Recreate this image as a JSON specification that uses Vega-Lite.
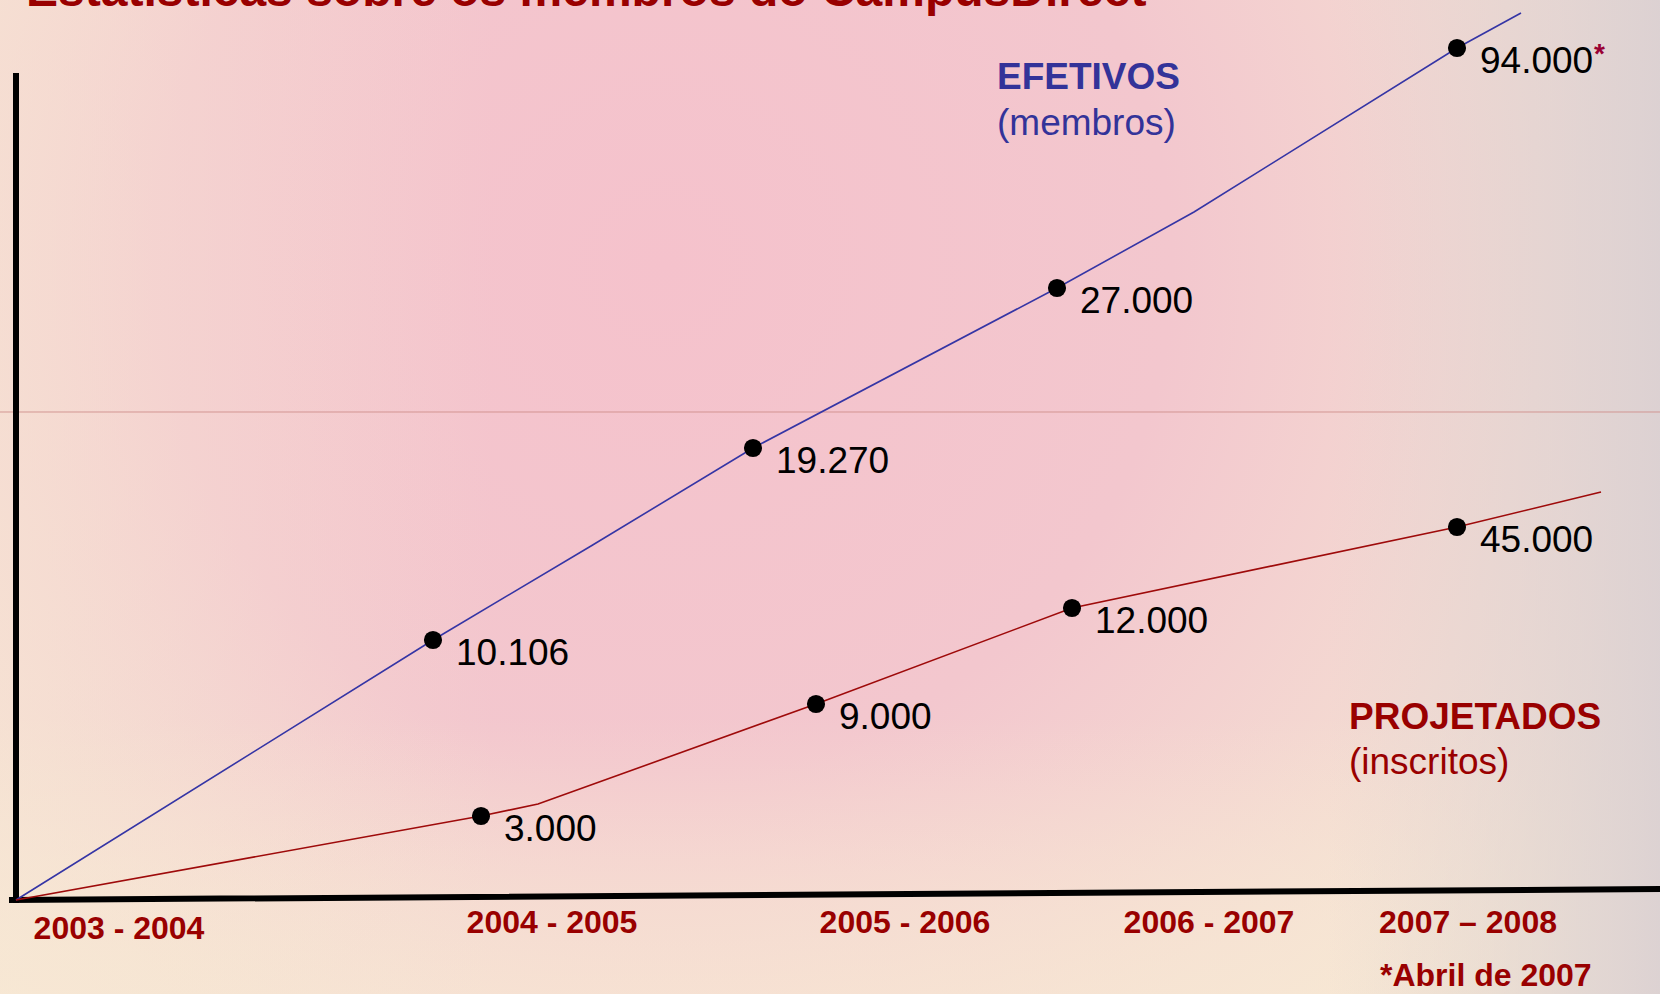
{
  "$schema": "https://vega.github.io/schema/vega-lite/v6.json",
  "width": 1660,
  "height": 994,
  "autosize": {"type": "none"},
  "padding": 0,
  "background": "#f4e2d3",
  "config": {
    "view": {
      "stroke": null,
      "fill": {
        "gradient": "radial",
        "x1": 0.4, "y1": 0.36, "r1": 0,
        "x2": 0.4, "y2": 0.36, "r2": 0.68,
        "stops": [
          {"offset": 0, "color": "#f5c2cc"},
          {"offset": 0.45, "color": "#f3c7ce"},
          {"offset": 0.78, "color": "#f4dcd2"},
          {"offset": 1, "color": "#f7e8d4"}
        ]
      }
    },
    "text": {"font": "Liberation Sans"}
  },
  "datasets": {
    "canvas": [{"x": 0, "x2": 1660, "y": 0, "y2": 994}],
    "guide": [{"x": 0, "y": 412, "i": 0}, {"x": 1660, "y": 412, "i": 1}],
    "axes": [
      {"seg": "vertical", "x": 16, "y": 76, "i": 0},
      {"seg": "vertical", "x": 16, "y": 900, "i": 1},
      {"seg": "horizontal", "x": 12, "y": 900, "i": 0},
      {"seg": "horizontal", "x": 1660, "y": 889, "i": 1}
    ],
    "efetivos_line": [
      {"x": 16, "y": 900, "i": 0},
      {"x": 433, "y": 640, "i": 1},
      {"x": 591, "y": 546, "i": 2},
      {"x": 753, "y": 448, "i": 3},
      {"x": 1057, "y": 288, "i": 4},
      {"x": 1194, "y": 212, "i": 5},
      {"x": 1457, "y": 48, "i": 6},
      {"x": 1521, "y": 13, "i": 7}
    ],
    "projetados_line": [
      {"x": 16, "y": 900, "i": 0},
      {"x": 481, "y": 816, "i": 1},
      {"x": 538, "y": 804, "i": 2},
      {"x": 816, "y": 704, "i": 3},
      {"x": 1072, "y": 608, "i": 4},
      {"x": 1457, "y": 527, "i": 5},
      {"x": 1601, "y": 492, "i": 6}
    ],
    "points": [
      {"series": "EFETIVOS", "x": 433, "y": 640, "label": "10.106"},
      {"series": "EFETIVOS", "x": 753, "y": 448, "label": "19.270"},
      {"series": "EFETIVOS", "x": 1057, "y": 288, "label": "27.000"},
      {"series": "EFETIVOS", "x": 1457, "y": 48, "label": "94.000"},
      {"series": "PROJETADOS", "x": 481, "y": 816, "label": "3.000"},
      {"series": "PROJETADOS", "x": 816, "y": 704, "label": "9.000"},
      {"series": "PROJETADOS", "x": 1072, "y": 608, "label": "12.000"},
      {"series": "PROJETADOS", "x": 1457, "y": 527, "label": "45.000"}
    ],
    "periods": [
      {"x": 119, "y": 929, "label": "2003 - 2004"},
      {"x": 552, "y": 923, "label": "2004 - 2005"},
      {"x": 905, "y": 923, "label": "2005 - 2006"},
      {"x": 1209, "y": 923, "label": "2006 - 2007"},
      {"x": 1468, "y": 923, "label": "2007 – 2008"}
    ],
    "notes": [
      {"role": "title", "x": 26, "y": 6, "label": "Estatísticas sobre os membros do CampusDirect"},
      {"role": "efetivos_head", "x": 997, "y": 78, "label": "EFETIVOS"},
      {"role": "efetivos_sub", "x": 997, "y": 124, "label": "(membros)"},
      {"role": "projetados_head", "x": 1349, "y": 718, "label": "PROJETADOS"},
      {"role": "projetados_sub", "x": 1349, "y": 763, "label": "(inscritos)"},
      {"role": "asterisk", "x": 1594, "y": 55, "label": "*"},
      {"role": "footnote", "x": 1380, "y": 976, "label": "*Abril de 2007"}
    ]
  },
  "encoding": {
    "x": {"field": "x", "type": "quantitative", "scale": {"domain": [0, 1660], "nice": false, "zero": false}, "axis": null},
    "y": {"field": "y", "type": "quantitative", "scale": {"domain": [0, 994], "reverse": true, "nice": false, "zero": false}, "axis": null}
  },
  "layer": [
    {
      "data": {"name": "canvas"},
      "mark": {
        "type": "rect",
        "fill": {
          "gradient": "linear",
          "x1": 0, "y1": 0, "x2": 0, "y2": 1,
          "stops": [
            {"offset": 0, "color": "rgba(248,234,212,0)"},
            {"offset": 0.72, "color": "rgba(248,234,212,0)"},
            {"offset": 0.9, "color": "rgba(248,234,212,0.45)"},
            {"offset": 1, "color": "rgba(248,234,212,0.6)"}
          ]
        }
      },
      "encoding": {"x2": {"field": "x2"}, "y2": {"field": "y2"}}
    },
    {
      "data": {"name": "canvas"},
      "mark": {
        "type": "rect",
        "fill": {
          "gradient": "linear",
          "x1": 0, "y1": 0, "x2": 1, "y2": 0,
          "stops": [
            {"offset": 0, "color": "rgba(247,232,212,0.55)"},
            {"offset": 0.16, "color": "rgba(247,232,212,0.25)"},
            {"offset": 0.3, "color": "rgba(247,232,212,0)"},
            {"offset": 0.8, "color": "rgba(220,208,210,0)"},
            {"offset": 1, "color": "rgba(216,206,210,0.85)"}
          ]
        }
      },
      "encoding": {"x2": {"field": "x2"}, "y2": {"field": "y2"}}
    },
    {
      "data": {"name": "guide"},
      "mark": {"type": "line", "color": "#cf8f8c", "strokeWidth": 1, "opacity": 0.9},
      "encoding": {"order": {"field": "i"}}
    },
    {
      "data": {"name": "axes"},
      "mark": {"type": "line", "color": "#000000", "strokeWidth": 6, "strokeCap": "square"},
      "encoding": {"detail": {"field": "seg"}, "order": {"field": "i"}}
    },
    {
      "data": {"name": "efetivos_line"},
      "mark": {"type": "line", "color": "#3535a5", "strokeWidth": 1.6},
      "encoding": {"order": {"field": "i"}}
    },
    {
      "data": {"name": "projetados_line"},
      "mark": {"type": "line", "color": "#9e0a0a", "strokeWidth": 1.6},
      "encoding": {"order": {"field": "i"}}
    },
    {
      "data": {"name": "points"},
      "mark": {"type": "circle", "color": "#000000", "opacity": 1, "size": 330}
    },
    {
      "data": {"name": "points"},
      "mark": {"type": "text", "align": "left", "baseline": "middle", "dx": 23, "dy": 14, "fontSize": 37, "color": "#000000"},
      "encoding": {"text": {"field": "label"}}
    },
    {
      "data": {"name": "periods"},
      "mark": {"type": "text", "align": "center", "baseline": "middle", "fontSize": 32, "fontWeight": "bold", "color": "#990000"},
      "encoding": {"text": {"field": "label"}}
    },
    {
      "data": {"name": "notes"},
      "transform": [{"filter": "datum.role === 'footnote'"}],
      "mark": {"type": "text", "align": "left", "baseline": "middle", "fontSize": 32, "fontWeight": "bold", "color": "#990000"},
      "encoding": {"text": {"field": "label"}}
    },
    {
      "data": {"name": "notes"},
      "transform": [{"filter": "datum.role === 'title'"}],
      "mark": {"type": "text", "align": "left", "baseline": "alphabetic", "fontSize": 48, "fontWeight": "bold", "color": "#990000"},
      "encoding": {"text": {"field": "label"}}
    },
    {
      "data": {"name": "notes"},
      "transform": [{"filter": "datum.role === 'efetivos_head'"}],
      "mark": {"type": "text", "align": "left", "baseline": "middle", "fontSize": 37, "fontWeight": "bold", "color": "#333399"},
      "encoding": {"text": {"field": "label"}}
    },
    {
      "data": {"name": "notes"},
      "transform": [{"filter": "datum.role === 'efetivos_sub'"}],
      "mark": {"type": "text", "align": "left", "baseline": "middle", "fontSize": 37, "color": "#333399"},
      "encoding": {"text": {"field": "label"}}
    },
    {
      "data": {"name": "notes"},
      "transform": [{"filter": "datum.role === 'projetados_head'"}],
      "mark": {"type": "text", "align": "left", "baseline": "middle", "fontSize": 37, "fontWeight": "bold", "color": "#990000"},
      "encoding": {"text": {"field": "label"}}
    },
    {
      "data": {"name": "notes"},
      "transform": [{"filter": "datum.role === 'projetados_sub'"}],
      "mark": {"type": "text", "align": "left", "baseline": "middle", "fontSize": 37, "color": "#990000"},
      "encoding": {"text": {"field": "label"}}
    },
    {
      "data": {"name": "notes"},
      "transform": [{"filter": "datum.role === 'asterisk'"}],
      "mark": {"type": "text", "align": "left", "baseline": "middle", "fontSize": 28, "fontWeight": "bold", "color": "#990033"},
      "encoding": {"text": {"field": "label"}}
    }
  ]
}
